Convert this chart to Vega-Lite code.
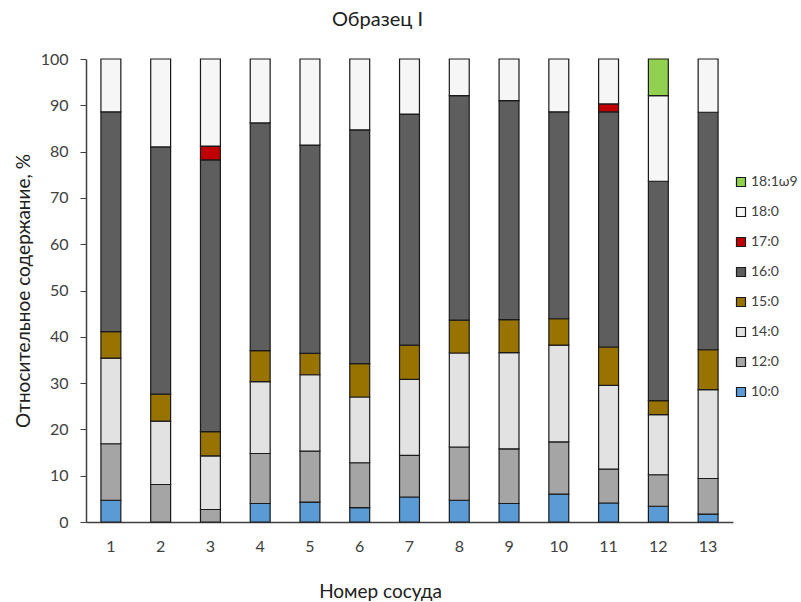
{
  "$schema": "https://vega.github.io/schema/vega-lite/v6.json",
  "autosize": "none",
  "width": 647,
  "height": 463,
  "padding": {"left": 86, "top": 59, "right": 68, "bottom": 80},
  "background": "white",
  "config": {
    "font": "Lato",
    "view": {"stroke": null},
    "axis": {"grid": false, "labelColor": "#404040", "titleColor": "#202020", "labelFont": "Lato", "titleFont": "Lato"},
    "legend": {"labelFont": "Lato"}
  },
  "title": {"text": "Образец I", "fontSize": 20, "fontWeight": "normal", "color": "#202020", "offset": 21, "dx": -32, "font": "Lato"},
  "data": {"values": [
    {"v": 1, "acid": "10:0", "o": 1, "val": 4.7},
    {"v": 1, "acid": "12:0", "o": 2, "val": 12.2},
    {"v": 1, "acid": "14:0", "o": 3, "val": 18.5},
    {"v": 1, "acid": "15:0", "o": 4, "val": 5.7},
    {"v": 1, "acid": "16:0", "o": 5, "val": 47.5},
    {"v": 1, "acid": "18:0", "o": 7, "val": 11.4},
    {"v": 2, "acid": "12:0", "o": 2, "val": 8.1},
    {"v": 2, "acid": "14:0", "o": 3, "val": 13.7},
    {"v": 2, "acid": "15:0", "o": 4, "val": 5.8},
    {"v": 2, "acid": "16:0", "o": 5, "val": 53.4},
    {"v": 2, "acid": "18:0", "o": 7, "val": 19.0},
    {"v": 3, "acid": "12:0", "o": 2, "val": 2.7},
    {"v": 3, "acid": "14:0", "o": 3, "val": 11.6},
    {"v": 3, "acid": "15:0", "o": 4, "val": 5.2},
    {"v": 3, "acid": "16:0", "o": 5, "val": 58.7},
    {"v": 3, "acid": "17:0", "o": 6, "val": 3.0},
    {"v": 3, "acid": "18:0", "o": 7, "val": 18.8},
    {"v": 4, "acid": "10:0", "o": 1, "val": 4.0},
    {"v": 4, "acid": "12:0", "o": 2, "val": 10.8},
    {"v": 4, "acid": "14:0", "o": 3, "val": 15.5},
    {"v": 4, "acid": "15:0", "o": 4, "val": 6.7},
    {"v": 4, "acid": "16:0", "o": 5, "val": 49.2},
    {"v": 4, "acid": "18:0", "o": 7, "val": 13.8},
    {"v": 5, "acid": "10:0", "o": 1, "val": 4.3},
    {"v": 5, "acid": "12:0", "o": 2, "val": 11.0},
    {"v": 5, "acid": "14:0", "o": 3, "val": 16.5},
    {"v": 5, "acid": "15:0", "o": 4, "val": 4.6},
    {"v": 5, "acid": "16:0", "o": 5, "val": 45.0},
    {"v": 5, "acid": "18:0", "o": 7, "val": 18.6},
    {"v": 6, "acid": "10:0", "o": 1, "val": 3.1},
    {"v": 6, "acid": "12:0", "o": 2, "val": 9.7},
    {"v": 6, "acid": "14:0", "o": 3, "val": 14.2},
    {"v": 6, "acid": "15:0", "o": 4, "val": 7.2},
    {"v": 6, "acid": "16:0", "o": 5, "val": 50.5},
    {"v": 6, "acid": "18:0", "o": 7, "val": 15.3},
    {"v": 7, "acid": "10:0", "o": 1, "val": 5.4},
    {"v": 7, "acid": "12:0", "o": 2, "val": 9.0},
    {"v": 7, "acid": "14:0", "o": 3, "val": 16.4},
    {"v": 7, "acid": "15:0", "o": 4, "val": 7.4},
    {"v": 7, "acid": "16:0", "o": 5, "val": 49.9},
    {"v": 7, "acid": "18:0", "o": 7, "val": 11.9},
    {"v": 8, "acid": "10:0", "o": 1, "val": 4.7},
    {"v": 8, "acid": "12:0", "o": 2, "val": 11.5},
    {"v": 8, "acid": "14:0", "o": 3, "val": 20.3},
    {"v": 8, "acid": "15:0", "o": 4, "val": 7.1},
    {"v": 8, "acid": "16:0", "o": 5, "val": 48.5},
    {"v": 8, "acid": "18:0", "o": 7, "val": 7.9},
    {"v": 9, "acid": "10:0", "o": 1, "val": 4.0},
    {"v": 9, "acid": "12:0", "o": 2, "val": 11.8},
    {"v": 9, "acid": "14:0", "o": 3, "val": 20.8},
    {"v": 9, "acid": "15:0", "o": 4, "val": 7.1},
    {"v": 9, "acid": "16:0", "o": 5, "val": 47.3},
    {"v": 9, "acid": "18:0", "o": 7, "val": 9.0},
    {"v": 10, "acid": "10:0", "o": 1, "val": 6.0},
    {"v": 10, "acid": "12:0", "o": 2, "val": 11.3},
    {"v": 10, "acid": "14:0", "o": 3, "val": 20.9},
    {"v": 10, "acid": "15:0", "o": 4, "val": 5.7},
    {"v": 10, "acid": "16:0", "o": 5, "val": 44.7},
    {"v": 10, "acid": "18:0", "o": 7, "val": 11.4},
    {"v": 11, "acid": "10:0", "o": 1, "val": 4.1},
    {"v": 11, "acid": "12:0", "o": 2, "val": 7.3},
    {"v": 11, "acid": "14:0", "o": 3, "val": 18.1},
    {"v": 11, "acid": "15:0", "o": 4, "val": 8.3},
    {"v": 11, "acid": "16:0", "o": 5, "val": 50.8},
    {"v": 11, "acid": "17:0", "o": 6, "val": 1.7},
    {"v": 11, "acid": "18:0", "o": 7, "val": 9.7},
    {"v": 12, "acid": "10:0", "o": 1, "val": 3.4},
    {"v": 12, "acid": "12:0", "o": 2, "val": 6.8},
    {"v": 12, "acid": "14:0", "o": 3, "val": 13.0},
    {"v": 12, "acid": "15:0", "o": 4, "val": 3.0},
    {"v": 12, "acid": "16:0", "o": 5, "val": 47.4},
    {"v": 12, "acid": "18:0", "o": 7, "val": 18.5},
    {"v": 12, "acid": "18:1ω9", "o": 8, "val": 7.9},
    {"v": 13, "acid": "10:0", "o": 1, "val": 1.7},
    {"v": 13, "acid": "12:0", "o": 2, "val": 7.7},
    {"v": 13, "acid": "14:0", "o": 3, "val": 19.2},
    {"v": 13, "acid": "15:0", "o": 4, "val": 8.6},
    {"v": 13, "acid": "16:0", "o": 5, "val": 51.3},
    {"v": 13, "acid": "18:0", "o": 7, "val": 11.5}
  ]},
  "mark": {"type": "bar", "stroke": "#1a1a1a", "strokeWidth": 1.2},
  "encoding": {
    "x": {
      "field": "v", "type": "ordinal",
      "scale": {"paddingInner": 0.6, "paddingOuter": 0.3},
      "axis": {
        "title": "Номер сосуда", "titleFontSize": 19, "titleFontWeight": "normal",
        "titlePadding": 28, "titleX": 294, "titleAlign": "center",
        "labelAngle": 0, "labelFontSize": 16, "labelPadding": 16, "ticks": false,
        "domainColor": "#404040", "domainWidth": 1.5
      }
    },
    "y": {
      "field": "val", "type": "quantitative", "stack": "zero",
      "scale": {"domain": [0, 100], "nice": false},
      "axis": {
        "title": "Относительное содержание, %", "titleFontSize": 19, "titleFontWeight": "normal",
        "titlePadding": 7, "values": [0,10,20,30,40,50,60,70,80,90,100],
        "labelFontSize": 16, "labelPadding": 12, "tickSize": 6, "tickColor": "#404040",
        "domainColor": "#404040", "domainWidth": 1.5
      }
    },
    "color": {
      "field": "acid", "type": "nominal",
      "scale": {
        "domain": ["18:1ω9", "18:0", "17:0", "16:0", "15:0", "14:0", "12:0", "10:0"],
        "range": ["#92D050", "#f6f6f6", "#C00000", "#5e5e5e", "#997300", "#e2e2e2", "#a5a5a5", "#5B9BD5"]
      },
      "legend": {
        "title": null, "orient": "none", "legendX": 648, "legendY": 116,
        "symbolType": "square", "symbolSize": 81, "symbolStrokeColor": "#1a1a1a", "symbolStrokeWidth": 1.2,
        "labelFontSize": 14, "labelColor": "#404040", "rowPadding": 16, "labelOffset": 3, "labelLimit": 60
      }
    },
    "order": {"field": "o", "type": "quantitative", "sort": "ascending"}
  }
}
